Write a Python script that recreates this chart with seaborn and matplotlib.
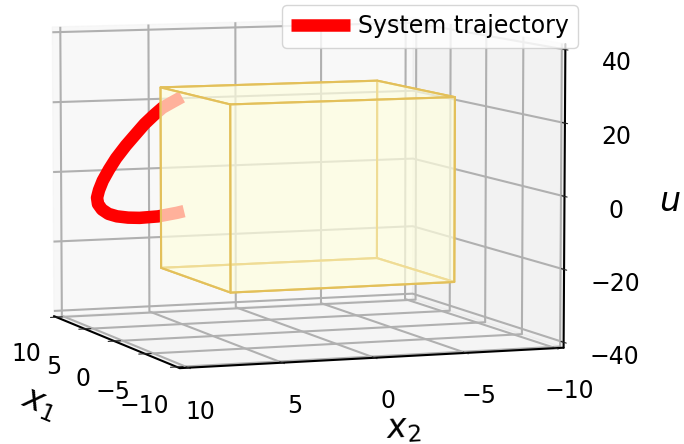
import matplotlib
matplotlib.use('Agg')
import matplotlib.pyplot as plt
import seaborn as sns
from mpl_toolkits.mplot3d.art3d import Poly3DCollection

sns.set_style('white')
plt.rcParams['font.family'] = ['DejaVu Sans']

# trajectory
x1_traj = [5.2] * 21
x2_traj = [4.9, 5.4, 6.0, 6.5, 7.0, 7.5, 8.05, 8.6, 9.0, 9.35, 9.56, 9.67, 9.62, 9.4, 9.04, 8.57, 7.94, 7.3, 6.27, 5.2, 4.8]
u_traj = [22.9, 21.6, 20, 17.9, 15.6, 12.8, 9.7, 6.2, 3.1, 0, -2.6, -4.7, -6.5, -8.1, -9.4, -10.2, -10.7, -10.9, -10.7, -9.9, -9.5]

# safe set
x1_box = [-6.3, 4.7]
x2_box = [-6.06, 6.27]
u_box = [-25, 26]

ticks_x = [-10, -5, 0, 5, 10]
ticks_u = [-40, -20, 0, 20, 40]

fig = plt.figure(figsize=(6.84, 4.44), dpi=100)
ax = fig.add_subplot(111, projection='3d', computed_zorder=False)
ax.set_position([-0.265, -0.128, 1.39, 1.39])
ax.view_init(elev=6, azim=159.5)
ax.set_proj_type('persp', focal_length=1.4)

ax.plot(x1_traj, x2_traj, u_traj, color='red', lw=9, label='System trajectory', zorder=1,
        solid_capstyle='butt', solid_joinstyle='round')

a0, a1 = x1_box
b0, b1 = x2_box
c0, c1 = u_box
faces = [
    [(a0, b0, c0), (a1, b0, c0), (a1, b1, c0), (a0, b1, c0)],
    [(a0, b0, c1), (a1, b0, c1), (a1, b1, c1), (a0, b1, c1)],
    [(a0, b0, c0), (a1, b0, c0), (a1, b0, c1), (a0, b0, c1)],
    [(a0, b1, c0), (a1, b1, c0), (a1, b1, c1), (a0, b1, c1)],
    [(a0, b0, c0), (a0, b1, c0), (a0, b1, c1), (a0, b0, c1)],
    [(a1, b0, c0), (a1, b1, c0), (a1, b1, c1), (a1, b0, c1)],
]
ax.add_collection3d(Poly3DCollection(faces, facecolor=(1, 1, 0.875, 0.45), edgecolor='#e3c05a', lw=1.5, zorder=2))

ax.set_xlim(-10.45, 10.45)
ax.set_ylim(-10.45, 10.45)
ax.set_zlim(-41.5, 41.5)
ax.set_xticks(ticks_x)
ax.set_yticks(ticks_x)
ax.set_zticks(ticks_u)
ax.tick_params(axis='x', pad=11, labelsize=17, labelcolor='black')
ax.tick_params(axis='y', pad=12, labelsize=17, labelcolor='black')
ax.tick_params(axis='z', pad=14, labelsize=17, labelcolor='black')
for axis in [ax.xaxis, ax.yaxis, ax.zaxis]:
    axis.line.set_color('black')
    axis.line.set_linewidth(1.5)
    axis._axinfo['grid']['color'] = '#b0b0b0'
    axis._axinfo['grid']['linewidth'] = 1.5
    axis._axinfo['tick']['outward_factor'] = 0.2
for lab in ax.get_xticklabels() + ax.get_yticklabels() + ax.get_zticklabels():
    lab.set_fontsize(17)
ax.set_xlabel('$x_1$', fontsize=24, labelpad=24, color='black')
ax.set_ylabel('$x_2$', fontsize=24, labelpad=24, color='black')
ax.set_zlabel('$u$', fontsize=24, labelpad=24, color='black')
ax.legend(loc='upper left', fontsize=17, handlelength=2.5, handletextpad=0.3, borderaxespad=0,
          labelcolor='black', bbox_to_anchor=(282 / 684, 1 - 5 / 444), bbox_transform=fig.transFigure)

fig.savefig('out.png', dpi=100)
